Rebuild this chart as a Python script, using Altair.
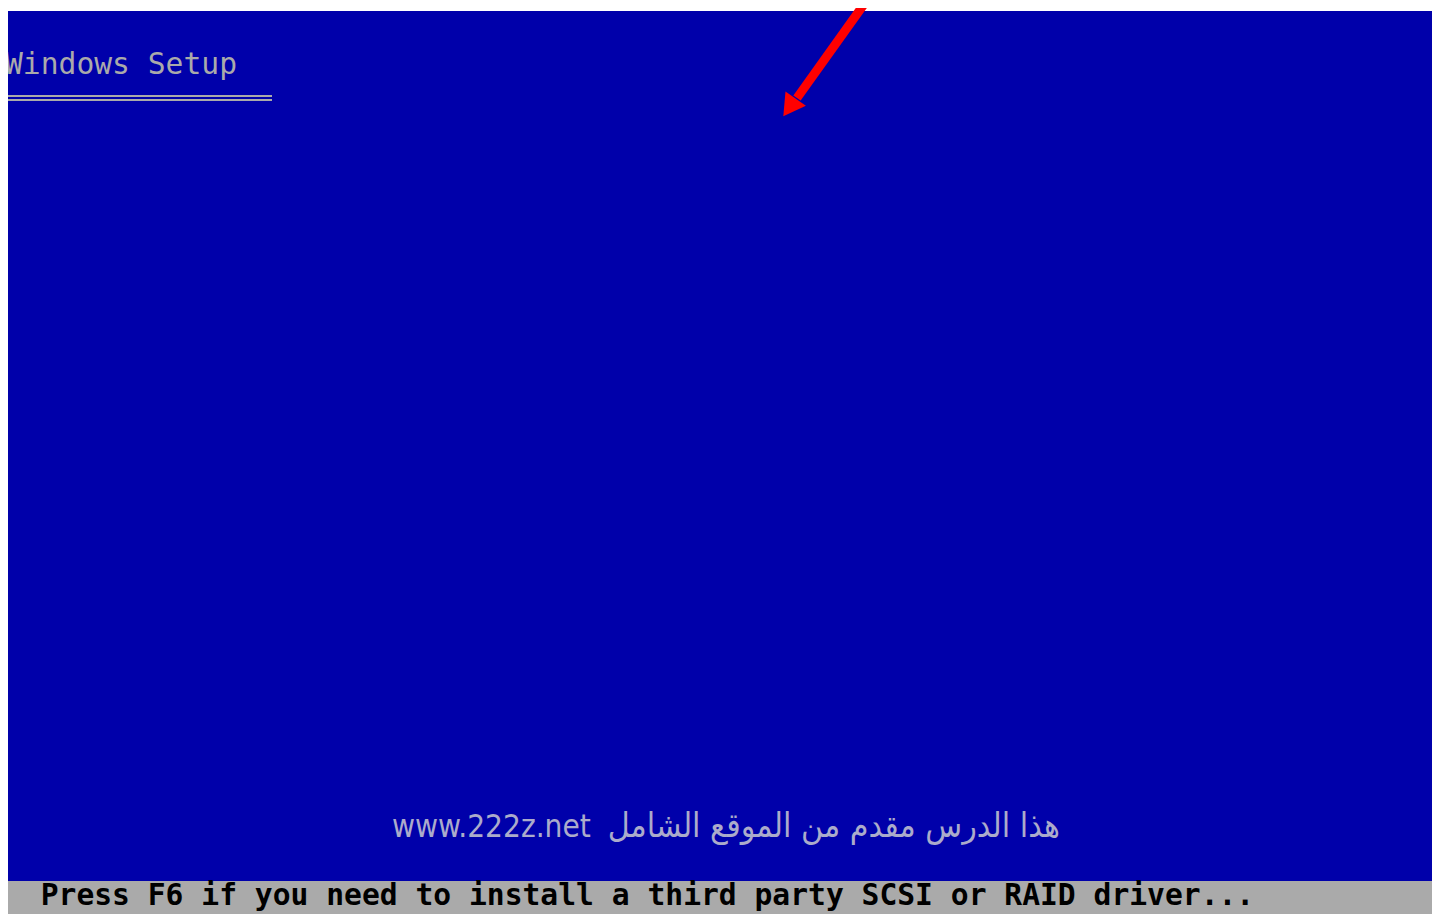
import altair as alt
import pandas as pd

# Page-pixel coordinate frame of the chart (8px page margin)
W, H = 1428, 906
X0, Y0 = 8, 8

# Screen regions
region_names = ["screen", "status"]
region_x = [5, 5]
region_x2 = [1432, 1432]
region_y = [11, 881]
region_y2 = [881, 914]
region_colors = ["#0000AA", "#AAAAAA"]

# Double underline under the title
underline_y = [96, 100]
underline_x = [5, 272]

# Texts
title_text = "Windows Setup"
status_text = "Press F6 if you need to install a third party SCSI or RAID driver..."
watermark_url = "www.222z.net"
watermark_ar = "هذا الدرس مقدم من الموقع الشامل"

# Red arrow
arrow_x = [867, 797]
arrow_y = [0, 98]
arrow_tip_x = [789.5]
arrow_tip_y = [107.5]

xs = alt.Scale(domain=[X0, X0 + W], nice=False, zero=False)
ys = alt.Scale(domain=[Y0, Y0 + H], nice=False, zero=False, reverse=True)

rects = pd.DataFrame({"name": region_names, "x": region_x, "x2": region_x2,
                      "y": region_y, "y2": region_y2, "c": region_colors})
rect_layer = alt.Chart(rects).mark_rect().encode(
    x=alt.X("x:Q", scale=xs, axis=None), x2="x2:Q",
    y=alt.Y("y:Q", scale=ys, axis=None), y2="y2:Q",
    color=alt.Color("c:N", scale=None),
)

ul = pd.DataFrame({"x": [underline_x[0]] * 2, "x2": [underline_x[1]] * 2, "y": underline_y})
ul_layer = alt.Chart(ul).mark_rule(color="#AAAAAA", strokeWidth=2).encode(
    x=alt.X("x:Q", scale=xs, axis=None), x2="x2:Q",
    y=alt.Y("y:Q", scale=ys, axis=None),
)

title_layer = alt.Chart(pd.DataFrame({"t": [title_text], "x": [5], "y": [74]})).mark_text(
    font="DejaVu Sans Mono", fontSize=29.65, color="#AAAAAA", align="left", baseline="alphabetic"
).encode(x=alt.X("x:Q", scale=xs, axis=None), y=alt.Y("y:Q", scale=ys, axis=None), text="t:N")

status_layer = alt.Chart(pd.DataFrame({"t": [status_text], "x": [40.7], "y": [905]})).mark_text(
    font="DejaVu Sans Mono", fontSize=29.65, fontWeight="bold", color="#000000",
    align="left", baseline="alphabetic"
).encode(x=alt.X("x:Q", scale=xs, axis=None), y=alt.Y("y:Q", scale=ys, axis=None), text="t:N")

url_layer = alt.Chart(pd.DataFrame({"t": [watermark_url], "x": [392], "y": [837]})).mark_text(
    font="DejaVu Sans Condensed", fontSize=31.3, color="#ABABCB", fontWeight=300,
    align="left", baseline="alphabetic"
).encode(x=alt.X("x:Q", scale=xs, axis=None), y=alt.Y("y:Q", scale=ys, axis=None), text="t:N")

ar_layer = alt.Chart(pd.DataFrame({"t": [watermark_ar], "x": [1060], "y": [837]})).mark_text(
    font="DejaVu Sans Condensed", fontSize=33.6, color="#ABABCB", fontWeight=300,
    align="right", baseline="alphabetic"
).encode(x=alt.X("x:Q", scale=xs, axis=None), y=alt.Y("y:Q", scale=ys, axis=None), text="t:N")

arrow = pd.DataFrame({"x": arrow_x, "y": arrow_y, "o": [0, 1]})
arrow_layer = alt.Chart(arrow).mark_line(color="#FF0000", strokeWidth=9, strokeCap="butt").encode(
    x=alt.X("x:Q", scale=xs, axis=None), y=alt.Y("y:Q", scale=ys, axis=None), order="o:Q"
)
tip_layer = alt.Chart(pd.DataFrame({"x": arrow_tip_x, "y": arrow_tip_y})).mark_point(
    shape="triangle-down", angle=35, size=620, filled=True, color="#FF0000", opacity=1
).encode(x=alt.X("x:Q", scale=xs, axis=None), y=alt.Y("y:Q", scale=ys, axis=None))

chart = alt.layer(
    rect_layer, ul_layer, title_layer, url_layer, ar_layer, status_layer, arrow_layer, tip_layer
).properties(
    width=W, height=H, padding=0, autosize=alt.AutoSizeParams(type="none"), background="white"
).configure_view(stroke=None)

chart.save("out.html", embed_options={"renderer": "svg", "actions": False})
